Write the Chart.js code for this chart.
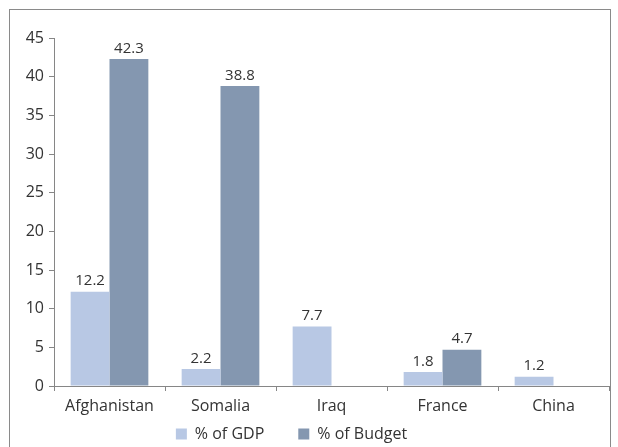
<!DOCTYPE html>
<html>
<head>
<meta charset="utf-8">
<script src="https://cdn.jsdelivr.net/npm/chart.js@4/dist/chart.umd.min.js"></script>
<style>
  html, body { margin: 0; padding: 0; background: #fff; }
  #wrap { position: relative; width: 618px; height: 447px; overflow: hidden; }
  #frame { position: absolute; left: 9px; top: 9px; width: 602px; height: 460px; border: 1px solid #8a8a8a; box-sizing: border-box; }
  canvas { position: absolute; left: 0; top: 0; }
</style>
</head>
<body>
<div id="wrap">
  <div id="frame"></div>
  <canvas id="chart" width="618" height="447"></canvas>
</div>
<script>
// categories and series
const countries = ['Afghanistan', 'Somalia', 'Iraq', 'France', 'China'];
const gdpShare = [12.2, 2.2, 7.7, 1.8, 1.2];
const budgetShare = [42.3, 38.8, null, 4.7, null];
const yTicks = [0, 5, 10, 15, 20, 25, 30, 35, 40, 45];

const FONT = "'Open Sans', sans-serif";
const TEXT = '#333333';
const AXIS = '#868686';

// value labels above each bar
const barLabels = {
    id: 'barLabels',
    afterDatasetsDraw(chart) {
        const ctx = chart.ctx;
        ctx.save();
        ctx.font = `15px ${FONT}`;
        ctx.fillStyle = TEXT;
        ctx.textAlign = 'center';
        ctx.textBaseline = 'bottom';
        chart.data.datasets.forEach((ds, i) => {
            chart.getDatasetMeta(i).data.forEach((bar, j) => {
                const v = ds.data[j];
                if (v === null || v === undefined) return;
                ctx.fillText(v.toFixed(1), bar.x, bar.y - 3);
            });
        });
        ctx.restore();
    }
};

// short legend box sitting low under the axis labels, nudged left
const legendFit = {
    id: 'legendFit',
    beforeLayout(chart) {
        const lg = chart.legend;
        if (lg && !lg._fixed) {
            const fit = lg.fit;
            lg.fit = function () { fit.call(this); this.height = 31; };
            lg._fixed = true;
        }
    },
    afterLayout(chart) {
        const lg = chart.legend;
        if (!lg) return;
        lg.left -= 13; lg.right -= 13;
        lg.top = 392; lg.bottom = chart.height; lg.height = lg.bottom - lg.top;
    }
};

new Chart(document.getElementById('chart'), {
    type: 'bar',
    data: {
        labels: countries,
        datasets: [
            { label: '% of GDP', data: gdpShare, backgroundColor: '#b8c8e4' },
            { label: '% of Budget', data: budgetShare, backgroundColor: '#8497b0' }
        ]
    },
    options: {
        responsive: false,
        animation: false,
        layout: { padding: { left: 0, right: 9, top: 38, bottom: 0 } },
        datasets: { bar: { categoryPercentage: 0.7, barPercentage: 1.0 } },
        plugins: {
            tooltip: { enabled: false },
            legend: {
                position: 'bottom',
                labels: {
                    boxWidth: 11, boxHeight: 11, padding: 34,
                    color: TEXT, font: { family: FONT, size: 16 }
                }
            }
        },
        scales: {
            x: {
                grid: { drawOnChartArea: false, color: AXIS, tickLength: 5, offset: true },
                border: { color: AXIS, width: 1 },
                ticks: { color: TEXT, font: { family: FONT, size: 16 }, padding: 6, maxRotation: 0, autoSkip: false },
                afterFit: s => { s.height = 30; }
            },
            y: {
                min: 0, max: 45,
                afterBuildTicks: s => { s.ticks = yTicks.map(v => ({ value: v })); },
                grid: { drawOnChartArea: false, color: AXIS, tickLength: 5 },
                border: { color: AXIS, width: 1 },
                ticks: { color: TEXT, font: { family: FONT, size: 16 }, padding: 5 },
                afterFit: s => { s.width = 54; }
            }
        }
    },
    plugins: [barLabels, legendFit]
});
</script>
</body>
</html>
